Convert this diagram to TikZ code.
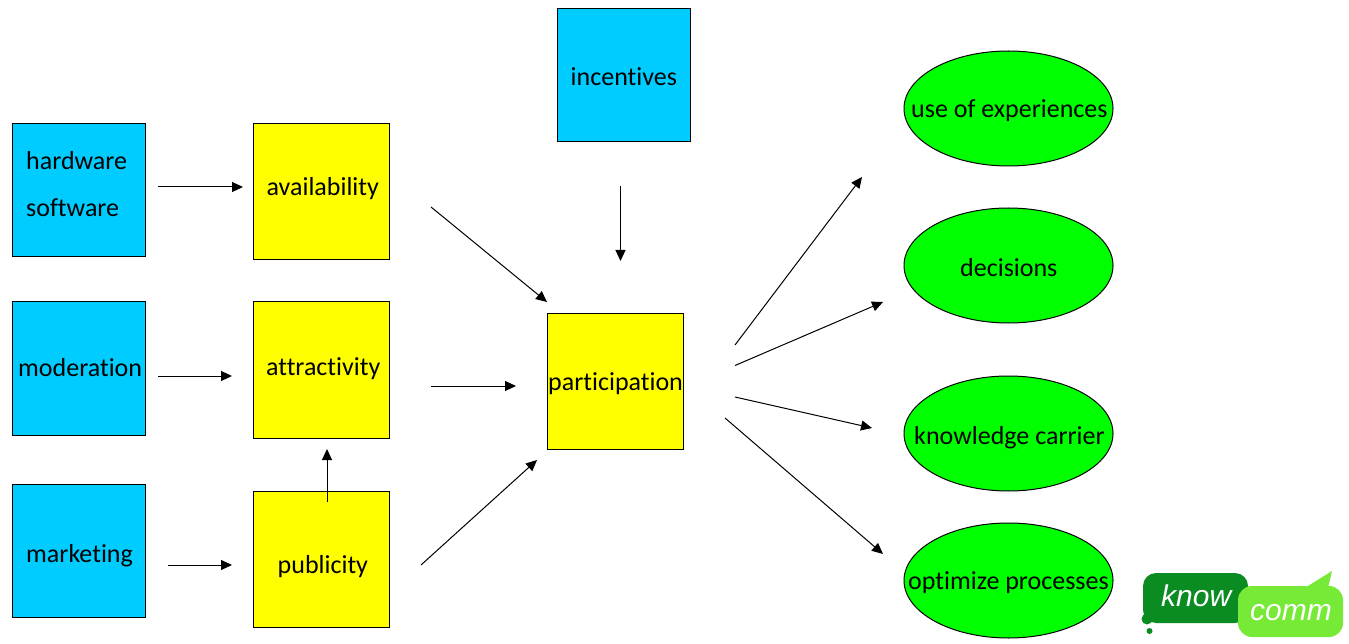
\documentclass[tikz,border=0pt]{standalone}
\usepackage{fontspec}
\setmainfont[Ligatures=NoCommon]{Carlito}
\newfontfamily\logofont{Liberation Sans}
\usetikzlibrary{arrows.meta,shapes.geometric}
\definecolor{boxblue}{HTML}{00CCFF}
\definecolor{boxyellow}{HTML}{FFFF00}
\definecolor{ovalgreen}{HTML}{00FF00}
\definecolor{logodark}{HTML}{0A8C22}
\definecolor{logolight}{HTML}{76EA36}
\tikzset{
  bluebox/.style={draw=black,line width=1pt,fill=boxblue,minimum width=133pt,minimum height=133pt,inner sep=0pt},
  yellowbox/.style={draw=black,line width=1pt,fill=boxyellow,minimum width=136pt,minimum height=136pt,inner sep=0pt},
  oval/.style={draw=black,line width=1pt,fill=ovalgreen,ellipse,minimum width=209pt,minimum height=115pt,inner sep=0pt},
  txt/.style={anchor=base west,inner sep=0pt,font=\fontsize{26}{30}\selectfont,text=black},
  arr/.style={-{Triangle[length=11pt,width=10pt]},line width=1pt,black},
  logotxt/.style={anchor=base west,inner sep=0pt,text=white,font=\logofont\itshape}
}
\begin{document}
\begin{tikzpicture}[x=1pt,y=-1pt]
\useasboundingbox (0,0) rectangle (1349,644);
% boxes
\node[bluebox] (hw) at (78.5,190.5) {};
\node[bluebox] (mod) at (78.5,368.5) {};
\node[bluebox] (mkt) at (78.5,550.5) {};
\node[bluebox] (inc) at (623.5,75.5) {};
\node[yellowbox] (ava) at (321,192) {};
\node[yellowbox] (att) at (321,370) {};
\node[yellowbox] (pub) at (321,559) {};
\node[yellowbox] (par) at (615,381) {};
\node[oval] (use) at (1008.5,108.5) {};
\node[oval] (dec) at (1008.5,265.5) {};
\node[oval] (kno) at (1008.5,433.5) {};
\node[oval] (opt) at (1008.5,580.5) {};
% labels
\node[txt] (t1) at (26,170) {hardware};
\node[txt] (t2) at (26,217) {software};
\node[txt] (t3) at (18,376) {moderation};
\node[txt] (t4) at (26,562) {marketing};
\node[txt] (t5) at (570.5,85.5) {incentives};
\node[txt] (t6) at (266.5,195.5) {availability};
\node[txt] (t7) at (266,375) {attractivity};
\node[txt] (t8) at (277.5,573) {publicity};
\node[txt] (t9) at (548,390) {participation};
\node[txt] (t10) at (911,118) {use of experiences};
\node[txt] (t11) at (960,276.5) {decisions};
\node[txt] (t12) at (914,444) {knowledge carrier};
\node[txt] (t13) at (908,589) {optimize processes};
% connector ends
\coordinate (a1) at (158,187); \coordinate (a2) at (243,187);
\coordinate (b1) at (158,376); \coordinate (b2) at (232,376);
\coordinate (c1) at (168,565); \coordinate (c2) at (232,565);
\coordinate (d1) at (327,502); \coordinate (d2) at (327,449);
\coordinate (e1) at (431,207); \coordinate (e2) at (547,302);
\coordinate (f1) at (431,386); \coordinate (f2) at (516,386);
\coordinate (g1) at (421,565); \coordinate (g2) at (537,460);
\coordinate (h1) at (620.5,186); \coordinate (h2) at (620.5,261);
\coordinate (i1) at (735,345); \coordinate (i2) at (862,177);
\coordinate (j1) at (735,365.5); \coordinate (j2) at (883,302);
\coordinate (k1) at (735,397); \coordinate (k2) at (872,428);
\coordinate (l1) at (725,418); \coordinate (l2) at (883,554);
\foreach \s/\e in {a1/a2,b1/b2,c1/c2,d1/d2,e1/e2,f1/f2,g1/g2,h1/h2,i1/i2,j1/j2,k1/k2,l1/l2}
  \draw[arr] (\s) -- (\e);
% logo
\fill[logodark,rounded corners=13pt] (1143,573) rectangle (1248,623);
\fill[logodark] (1147,619) circle (5.5);
\fill[logodark] (1149.5,631) circle (3);
\fill[logolight] (1308,586) -- (1332,571) -- (1327,592) -- cycle;
\fill[logolight,rounded corners=14pt] (1238,586) rectangle (1343,637);
\node[logotxt,font=\logofont\itshape\fontsize{30}{30}\selectfont] (know) at (1161,606) {know};
\node[logotxt,font=\logofont\itshape\fontsize{30}{30}\selectfont] (comm) at (1250,620) {comm};
\end{tikzpicture}
\end{document}
